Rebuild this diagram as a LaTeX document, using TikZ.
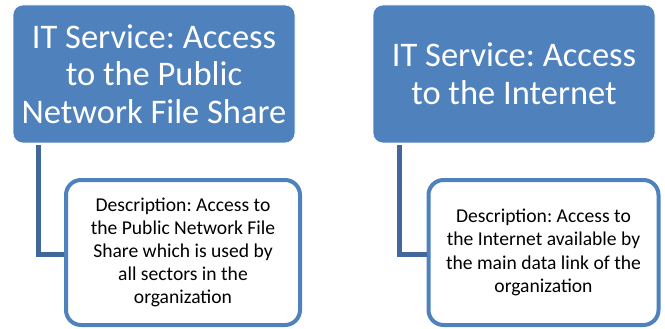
\documentclass[tikz,border=0pt]{standalone}
\usepackage{fontspec}
\setmainfont{Carlito}
\frenchspacing
\definecolor{itblue}{HTML}{4F81BD}
\definecolor{linkblue}{HTML}{41689A}
\tikzset{
    service/.style={fill=itblue, draw=white, line width=0.6pt, rounded corners=10pt,
        text=white, align=center, inner sep=0pt, minimum width=282pt, minimum height=138pt,
        font=\fontsize{34.5}{37.5}\selectfont},
    descbox/.style={fill=white, draw=itblue, line width=4pt, rounded corners=15pt,
        align=center, inner sep=0pt, minimum height=145pt,
        font=\fontsize{19.6}{23.2}\selectfont},
    link/.style={draw=linkblue, line width=5pt}
}
\begin{document}
\begin{tikzpicture}[x=1pt, y=-1pt]
    \useasboundingbox (0,0) rectangle (665,329);

    % first service
    \node[service] (itA) at (154,74) {IT Service: Access\\to the Public\\Network File Share};
    \node[descbox, minimum width=234pt] (descA) at (183,252.5) {Description: Access to\\the Public Network File\\Share which is used by\\all sectors in the\\organization};
    \draw[link] ([xshift=26pt,yshift=-2pt]itA.south west) |- ([yshift=-1.5pt]descA.west);

    % second service
    \node[service] (itB) at (514,74) {IT Service: Access\\to the Internet};
    \node[descbox, minimum width=230pt] (descB) at (543.5,252.5) {Description: Access to\\the Internet available by\\the main data link of the\\organization};
    \draw[link] ([xshift=27pt,yshift=-2pt]itB.south west) |- ([yshift=-1.5pt]descB.west);

\end{tikzpicture}
\end{document}
